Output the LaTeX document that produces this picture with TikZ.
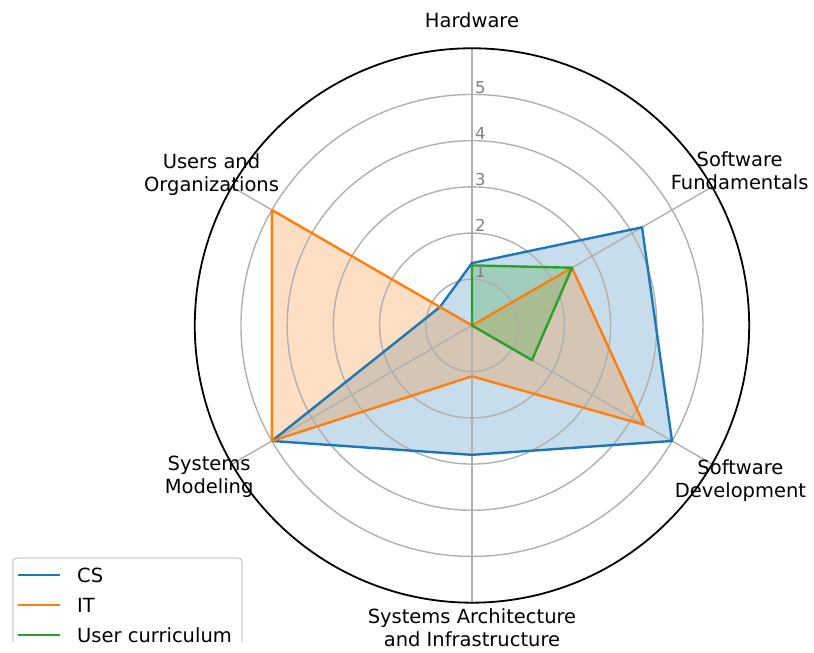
\documentclass[tikz,border=0pt]{standalone}
\usepackage{fontspec}
\setmainfont{DejaVu Sans}

\definecolor{csblue}{HTML}{1F77B4}
\definecolor{itorange}{HTML}{FF7F0E}
\definecolor{usergreen}{HTML}{2CA02C}
\definecolor{gridgray}{HTML}{B0B0B0}
\definecolor{tickgray}{HTML}{808080}
\definecolor{legendedge}{HTML}{CCCCCC}

\tikzset{
  gridline/.style={gridgray, line width=1.4pt},
  spine/.style={black, line width=1.8pt},
  series/.style={line width=2.4pt, line join=round},
  seriesfill/.style={fill opacity=0.25},
  ticklbl/.style={text=tickgray, font=\fontsize{16.5}{18}\selectfont, inner sep=0pt, anchor=base west},
  axislbl/.style={align=center, inner sep=0pt},
  legendframe/.style={draw=legendedge, line width=1.2pt, rounded corners=4pt, fill=white, fill opacity=0.8},
  legendlbl/.style={anchor=west, inner sep=0pt},
}

\begin{document}
\begin{tikzpicture}[x=46.2pt, y=46.2pt, font=\fontsize{19.5}{23}\selectfont]
      \useasboundingbox (-10.216,-7.089) rectangle (7.403,7.045);
      % data points, one per axis
      \path
        (90:1.35) coordinate (cs0)
        (30:4.25) coordinate (cs1)
        (-30:5) coordinate (cs2)
        (-90:2.8) coordinate (cs3)
        (210:5) coordinate (cs4)
        (150:0.8) coordinate (cs5)
        (90:0) coordinate (it0)
        (30:2.5) coordinate (it1)
        (-30:4.3) coordinate (it2)
        (-90:1.1) coordinate (it3)
        (210:5) coordinate (it4)
        (150:5) coordinate (it5)
        (90:1.3) coordinate (uc0)
        (30:2.5) coordinate (uc1)
        (-30:1.5) coordinate (uc2)
        (-90:0) coordinate (uc3)
        (210:0) coordinate (uc4)
        (150:0) coordinate (uc5);
      \begin{scope}[seriesfill]
        \fill[csblue] (cs0) -- (cs1) -- (cs2) -- (cs3) -- (cs4) -- (cs5) -- cycle;
        \fill[itorange] (it0) -- (it1) -- (it2) -- (it3) -- (it4) -- (it5) -- cycle;
        \fill[usergreen] (uc0) -- (uc1) -- (uc2) -- (uc3) -- (uc4) -- (uc5) -- cycle;
      \end{scope}
      % grid
      \foreach \r in {1,...,5}
        \draw[gridline] (0,0) circle (\r);
      \foreach \a in {90,30,-30,-90,210,150}
        \draw[gridline] (0,0) -- (\a:6);
      \begin{scope}[series]
        \draw[csblue] (cs0) -- (cs1) -- (cs2) -- (cs3) -- (cs4) -- (cs5) -- cycle;
        \draw[itorange] (it0) -- (it1) -- (it2) -- (it3) -- (it4) -- (it5) -- cycle;
        \draw[usergreen] (uc0) -- (uc1) -- (uc2) -- (uc3) -- (uc4) -- (uc5) -- cycle;
      \end{scope}
      \draw[spine] (0,0) circle (6);
      \foreach \r in {1,...,5}
        \node[ticklbl] (tick\r) at (0.065,\r+0.03) {\r};
      % axis labels
      \path[axislbl]
        (90:6.61) node (hw){Hardware}
        (30:6.69) node (sf){Software\\Fundamentals}
        (-30:6.71) node (sd){Software\\Development}
        (-90:6.55) node (sai){Systems Architecture\\and Infrastructure}
        (210:6.57) node (sm){Systems\\Modeling}
        (150:6.51) node (uo){Users and\\Organizations};
      % legend
      \path[legendframe] (-9.935,-6.85) |- (-4.978,-5.032) -- (-4.978,-6.85);
      \draw[csblue, series] (-9.827,-5.401) -- (-8.918,-5.401);
      \draw[itorange, series] (-9.827,-6.050) -- (-8.918,-6.050);
      \draw[usergreen, series] (-9.827,-6.699) -- (-8.918,-6.699);
      \node[legendlbl] (lcs) at (-8.55,-5.401) {CS};
      \node[legendlbl] (lit) at (-8.55,-6.050) {IT};
      \node[legendlbl] (luc) at (-8.55,-6.699) {User curriculum};
    \end{tikzpicture}
\end{document}
